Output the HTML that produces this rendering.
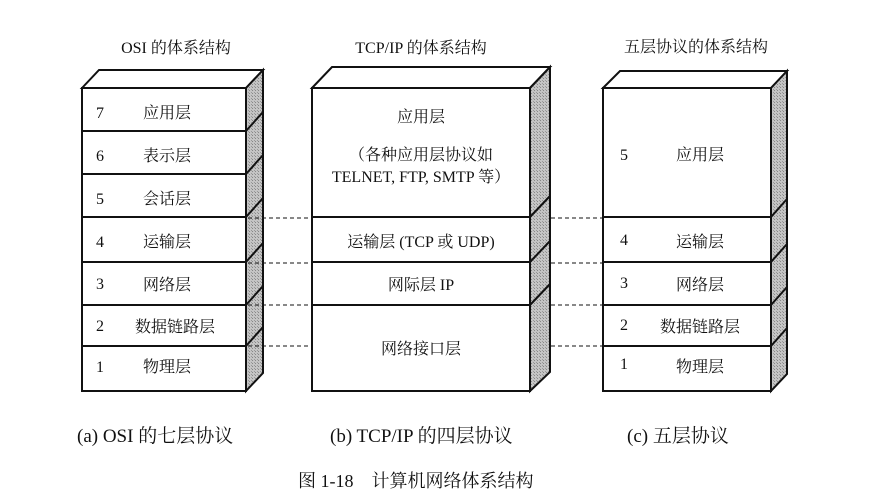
<!DOCTYPE html>
<html><head><meta charset="utf-8"><style>
html,body{margin:0;padding:0;background:#fff;}
svg{display:block}
text{font-family:"Liberation Serif","Noto Serif CJK SC","Noto Sans CJK SC",serif;fill:#111;}
</style></head><body>
<svg width="884" height="504" viewBox="0 0 884 504" xmlns="http://www.w3.org/2000/svg">
<defs>
<pattern id="h" width="3" height="3" patternUnits="userSpaceOnUse">
<rect width="3" height="3" fill="#c4c4c4"/><rect width="1" height="1" fill="#888"/><rect x="2" y="2" width="1" height="1" fill="#999"/>
</pattern>
</defs>
<g stroke="#111" stroke-width="2" fill="#fff">
<!-- Block a -->
<polygon points="82,88 99,70 263,70 246,88"/>
<polygon points="246,88 263,70 263,373 246,391" fill="url(#h)"/>
<rect x="82" y="88" width="164" height="303"/>
<line x1="82" y1="131" x2="246" y2="131"/><line x1="82" y1="174" x2="246" y2="174"/>
<line x1="82" y1="217" x2="246" y2="217"/><line x1="82" y1="262" x2="246" y2="262"/>
<line x1="82" y1="305" x2="246" y2="305"/><line x1="82" y1="346" x2="246" y2="346"/>
<line x1="246" y1="131" x2="263" y2="112"/><line x1="246" y1="174" x2="263" y2="155"/>
<line x1="246" y1="217" x2="263" y2="198"/><line x1="246" y1="262" x2="263" y2="243"/>
<line x1="246" y1="305" x2="263" y2="286"/><line x1="246" y1="346" x2="263" y2="327"/>
<!-- Block b -->
<polygon points="312,88 332,67 550,67 530,88"/>
<polygon points="530,88 550,67 550,372 530,391" fill="url(#h)"/>
<rect x="312" y="88" width="218" height="303"/>
<line x1="312" y1="217" x2="530" y2="217"/><line x1="312" y1="262" x2="530" y2="262"/>
<line x1="312" y1="305" x2="530" y2="305"/>
<line x1="530" y1="217" x2="550" y2="196"/><line x1="530" y1="262" x2="550" y2="241"/>
<line x1="530" y1="305" x2="550" y2="284"/>
<!-- Block c -->
<polygon points="603,88 620,71 787,71 771,88"/>
<polygon points="771,88 787,71 787,374 771,391" fill="url(#h)"/>
<rect x="603" y="88" width="168" height="303"/>
<line x1="603" y1="217" x2="771" y2="217"/><line x1="603" y1="262" x2="771" y2="262"/>
<line x1="603" y1="305" x2="771" y2="305"/><line x1="603" y1="346" x2="771" y2="346"/>
<line x1="771" y1="217" x2="787" y2="199"/><line x1="771" y1="262" x2="787" y2="244"/>
<line x1="771" y1="305" x2="787" y2="287"/><line x1="771" y1="346" x2="787" y2="328"/>
</g>
<g stroke="#111" stroke-width="1" stroke-dasharray="4,3">
<line x1="248" y1="218" x2="312" y2="218"/><line x1="248" y1="263" x2="312" y2="263"/>
<line x1="248" y1="305" x2="312" y2="305"/><line x1="248" y1="346" x2="312" y2="346"/>
<line x1="551" y1="218" x2="603" y2="218"/><line x1="551" y1="263" x2="603" y2="263"/>
<line x1="551" y1="305" x2="603" y2="305"/><line x1="551" y1="346" x2="603" y2="346"/>
</g>
<g font-size="16">
<text x="176" y="53" text-anchor="middle">OSI 的体系结构</text>
<text x="421" y="53" text-anchor="middle">TCP/IP 的体系结构</text>
<text x="696" y="52" text-anchor="middle">五层协议的体系结构</text>
<text x="96" y="118">7</text><text x="143" y="118">应用层</text>
<text x="96" y="161">6</text><text x="143" y="161">表示层</text>
<text x="96" y="204">5</text><text x="143" y="204">会话层</text>
<text x="96" y="247">4</text><text x="143" y="247">运输层</text>
<text x="96" y="289">3</text><text x="143" y="290">网络层</text>
<text x="96" y="331">2</text><text x="135" y="332">数据链路层</text>
<text x="96" y="372">1</text><text x="143" y="372">物理层</text>
<text x="421" y="122" text-anchor="middle">应用层</text>
<text x="421" y="160" text-anchor="middle">（各种应用层协议如</text>
<text x="421" y="182" text-anchor="middle">TELNET, FTP, SMTP 等）</text>
<text x="421" y="247" text-anchor="middle">运输层 (TCP 或 UDP)</text>
<text x="421" y="290" text-anchor="middle">网际层 IP</text>
<text x="421" y="354" text-anchor="middle">网络接口层</text>
<text x="620" y="160">5</text><text x="676" y="160">应用层</text>
<text x="620" y="245">4</text><text x="676" y="247">运输层</text>
<text x="620" y="288">3</text><text x="676" y="290">网络层</text>
<text x="620" y="330">2</text><text x="660" y="332">数据链路层</text>
<text x="620" y="369">1</text><text x="676" y="372">物理层</text>
</g>
<g font-size="19">
<text x="77" y="442">(a) OSI 的七层协议</text>
<text x="330" y="442">(b) TCP/IP 的四层协议</text>
<text x="627" y="442">(c)  五层协议</text>
<text x="298" y="487" font-size="18">图 1-18　计算机网络体系结构</text>
</g>
</svg>
</body></html>
